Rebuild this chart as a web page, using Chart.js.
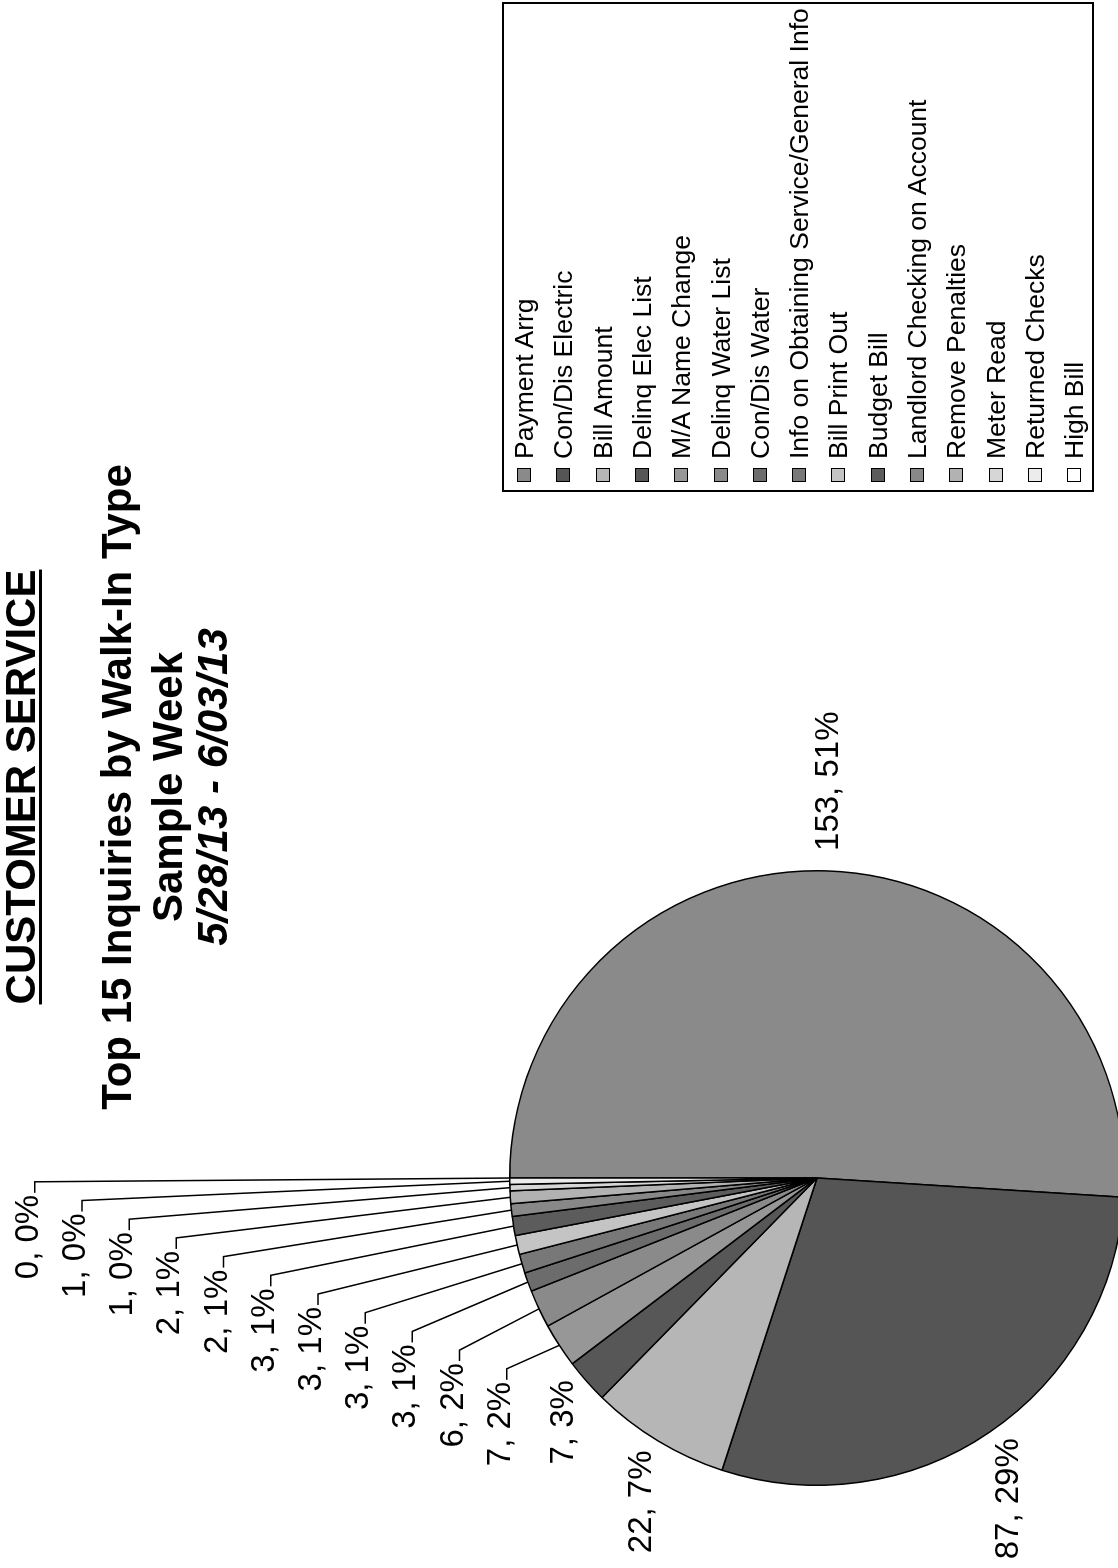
<!DOCTYPE html>
<html>
<head>
<meta charset="utf-8">
<title>Customer Service - Top 15 Inquiries by Walk-In Type</title>
<script src="https://cdn.jsdelivr.net/npm/chart.js@4.4.1/dist/chart.umd.min.js"></script>
<style>
  html, body { margin: 0; padding: 0; background: #fff; overflow: hidden; }
  body { width: 1118px; height: 1568px; position: relative; }
  /* the page is laid out in landscape, then turned a quarter turn counter-clockwise */
  #page {
    position: absolute; left: 0; top: 0;
    width: 1568px; height: 1118px; overflow: hidden;
    transform-origin: 0 0;
    transform: translate(0, 1568px) rotate(-90deg);
    background: #fff; color: #000;
    font-family: "Liberation Sans", Arial, sans-serif;
  }
  #pie { position: absolute; left: 0; top: 0; }
  .title {
    position: absolute; left: 331px; width: 900px;
    text-align: center; white-space: nowrap;
    font-weight: bold; font-size: 42px; line-height: 42px;
  }
  .title.underline { text-decoration: underline; text-decoration-thickness: 3px; text-underline-offset: 4px; }
  .title.date { font-style: italic; }
  #legend {
    position: absolute; left: 1076px; top: 502px;
    width: 490px; height: 592px;
    border: 2px solid #000; box-sizing: border-box; background: #fff;
  }
  .legend-row { position: absolute; left: 8px; height: 30px; white-space: nowrap; font-size: 26.5px; line-height: 30px; }
  .legend-row .box {
    position: absolute; left: 0; top: 8px; width: 14px; height: 14px;
    border: 1px solid #000; box-sizing: border-box;
  }
  .legend-row .txt { position: absolute; left: 23px; top: 0; }
</style>
</head>
<body>
<div id="page">
  <canvas id="pie" width="1568" height="1200"></canvas>
  <div class="title underline" style="top:0px">CUSTOMER SERVICE</div>
  <div class="title" style="top:96px">Top 15 Inquiries by Walk-In Type</div>
  <div class="title" style="top:147px">Sample Week</div>
  <div class="title date" style="top:192px">5/28/13 - 6/03/13</div>
  <div id="legend"></div>
</div>
<script>
const categories = [
  "Payment Arrg", "Con/Dis Electric", "Bill Amount", "Delinq Elec List",
  "M/A Name Change", "Delinq Water List", "Con/Dis Water",
  "Info on Obtaining Service/General Info", "Bill Print Out", "Budget Bill",
  "Landlord Checking on Account", "Remove Penalties", "Meter Read",
  "Returned Checks", "High Bill"
];
const counts = [153, 87, 22, 7, 7, 6, 3, 3, 3, 3, 2, 2, 1, 1, 0];
// percentages as printed on the chart (already rounded by the source)
const percentLabels = [51, 29, 7, 3, 2, 2, 1, 1, 1, 1, 1, 1, 0, 0, 0];
const sliceGrays = [
  "#8a8a8a", "#555555", "#b6b6b6", "#575757", "#979797",
  "#8a8a8a", "#6c6c6c", "#787878", "#c4c4c4", "#5c5c5c",
  "#888888", "#b2b2b2", "#d6d6d6", "#ececec", "#ffffff"
];

const LABEL_FONT = "33px 'Liberation Sans', Arial, sans-serif";

// Value labels: the big slices sit just outside their arc,
// the thin ones are stacked in a fan with leader lines.
const sliceLabels = {
  id: "sliceLabels",
  afterDatasetsDraw(chart) {
    const ctx = chart.ctx;
    const arcs = chart.getDatasetMeta(0).data;
    const last = arcs.length - 1;
    ctx.save();
    ctx.font = LABEL_FONT;
    ctx.fillStyle = "#000";
    ctx.strokeStyle = "#000";
    ctx.lineWidth = 1.5;
    ctx.textAlign = "center";
    ctx.textBaseline = "alphabetic";
    arcs.forEach((arc, i) => {
      const p = arc.getProps(["x", "y", "startAngle", "endAngle", "outerRadius"], true);
      const mid = (p.startAngle + p.endAngle) / 2;
      const ux = Math.cos(mid), uy = Math.sin(mid);
      const ex = p.x + p.outerRadius * ux;
      const ey = p.y + p.outerRadius * uy;
      const text = `${counts[i]}, ${percentLabels[i]}%`;
      const hw = ctx.measureText(text).width / 2;
      const hh = 12;
      if (i < 4) {
        const gap = 20;
        const lx = ex + gap * ux + hw * ux;
        const ly = ey + gap * uy + hh * uy;
        ctx.fillText(text, lx, ly + 10);
      } else {
        const k = last - i;
        const lx = p.x - 59 - 18.7 * k;
        const ly = p.y - p.outerRadius - 484 + 47.2 * k;
        ctx.fillText(text, lx, ly + 12);
        const tx = lx + hw + 2, ty = ly + 9;
        ctx.beginPath();
        ctx.moveTo(tx, ty);
        ctx.lineTo(tx + 11, ty);
        ctx.lineTo(ex, ey);
        ctx.stroke();
      }
    });
    ctx.restore();
  }
};

const chart = new Chart(document.getElementById("pie"), {
  type: "pie",
  data: {
    labels: categories,
    datasets: [{
      data: counts,
      backgroundColor: sliceGrays,
      borderColor: "#000",
      borderWidth: 1.5,
      hoverOffset: 0
    }]
  },
  options: {
    responsive: false,
    animation: false,
    layout: { padding: { left: 82, top: 509, right: 870, bottom: 75 } },
    plugins: {
      legend: { display: false },
      tooltip: { enabled: false }
    }
  },
  plugins: [sliceLabels]
});

// Legend box built from the same category / colour lists
const legend = document.getElementById("legend");
categories.forEach((name, i) => {
  const row = document.createElement("div");
  row.className = "legend-row";
  row.style.top = (5 + i * 39.3) + "px";
  row.innerHTML = `<span class="box" style="background:${sliceGrays[i]}"></span><span class="txt">${name}</span>`;
  legend.appendChild(row);
});
</script>
</body>
</html>
